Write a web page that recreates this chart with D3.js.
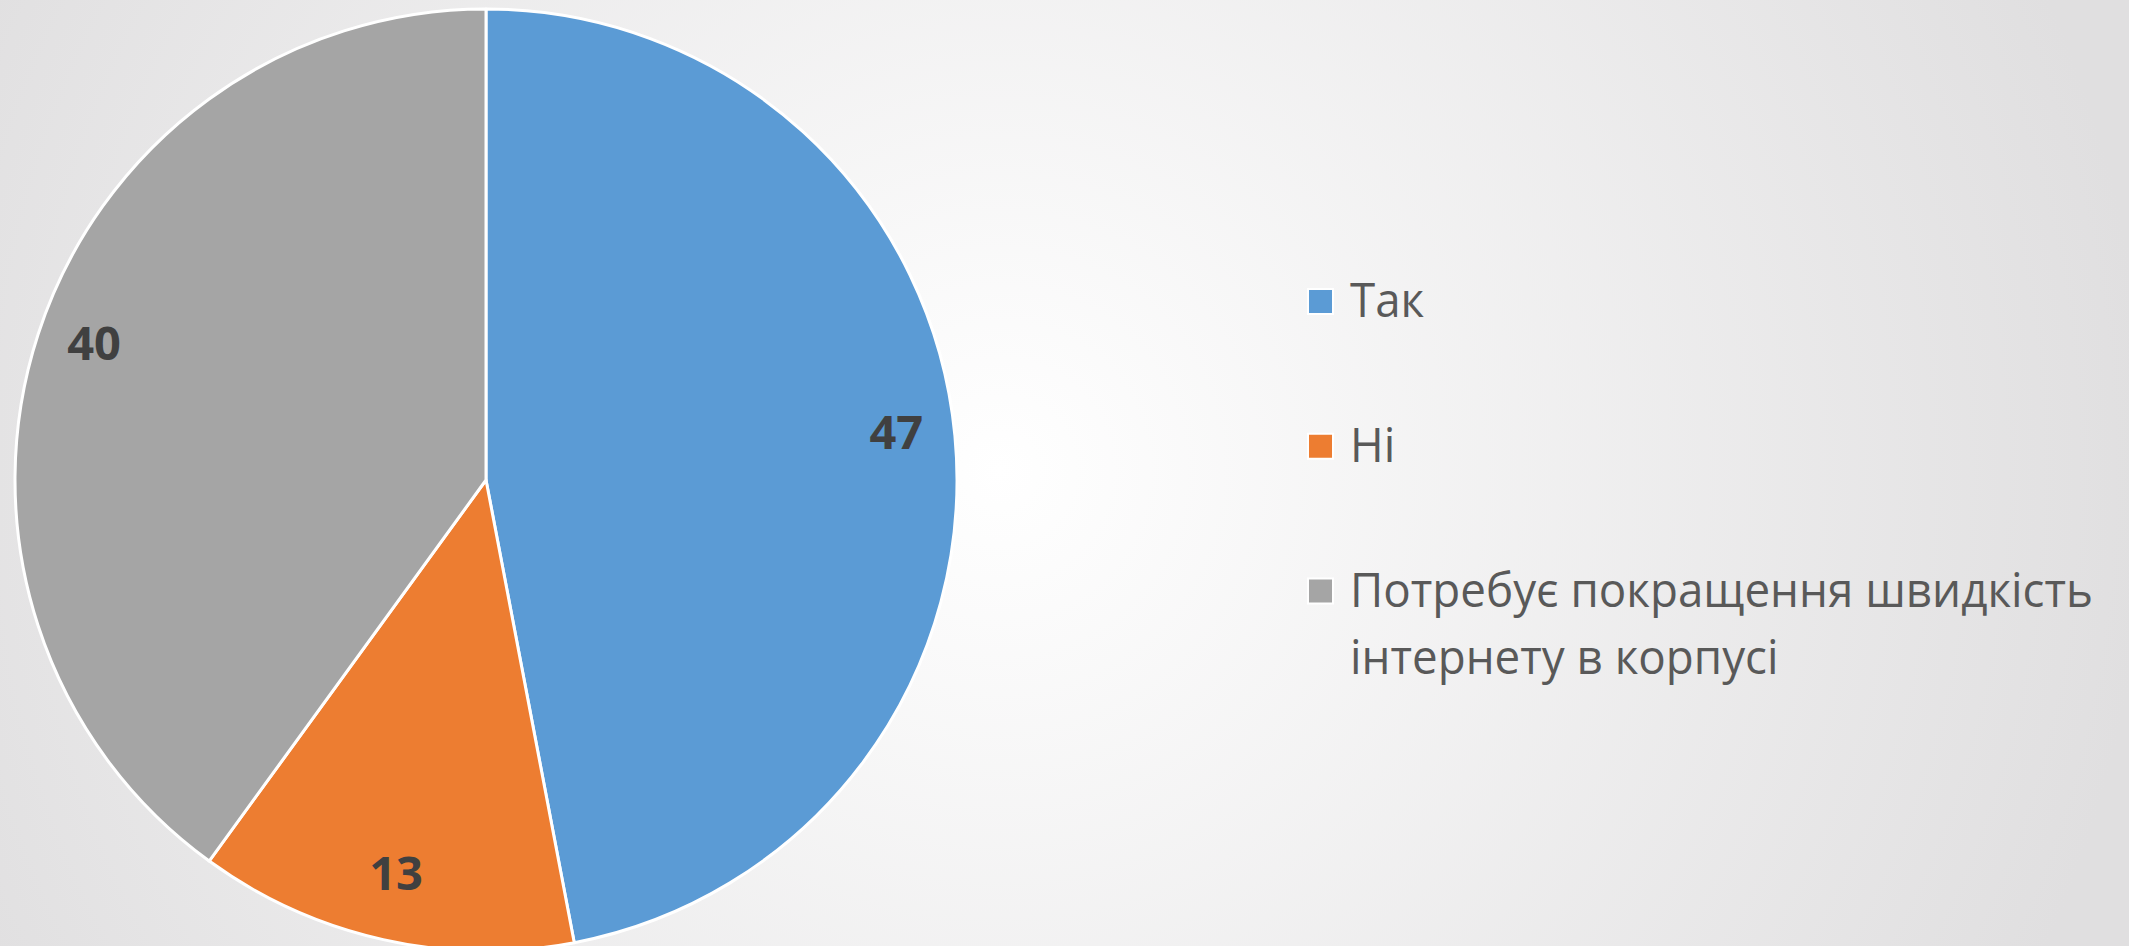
<!DOCTYPE html>
<html>
<head>
<meta charset="utf-8">
<script src="https://cdn.jsdelivr.net/npm/d3@7"></script>
<style>
  html, body { margin: 0; padding: 0; overflow: hidden; }
  svg { display: block; }
</style>
</head>
<body>
<svg id="chart" width="2129" height="946"></svg>
<script>
// ---- data ----
const categories = ["Так", "Ні", "Потребує покращення швидкість інтернету в корпусі"];
const legendLines = [["Так"], ["Ні"], ["Потребує покращення швидкість", "інтернету в корпусі"]];
const values = [47, 13, 40];
const colors = ["#5b9bd5", "#ed7d31", "#a5a5a5"];

const W = 2129, H = 946;
const svg = d3.select("#chart");

// background radial gradient
const defs = svg.append("defs");
const grad = defs.append("radialGradient")
  .attr("id", "bg").attr("gradientUnits", "userSpaceOnUse")
  .attr("cx", 1000).attr("cy", 470).attr("r", 1150);
grad.append("stop").attr("offset", "0%").attr("stop-color", "#ffffff");
grad.append("stop").attr("offset", "100%").attr("stop-color", "#e0dfe0");
svg.append("rect").attr("width", W).attr("height", H).attr("fill", "url(#bg)");

// pie
const cx = 486, cy = 480, R = 471;
const data = categories.map((c, i) => ({ cat: c, value: values[i], color: colors[i] }));
const pie = d3.pie().value(d => d.value).sort(null);
const arcs = pie(data);
const arc = d3.arc().innerRadius(0).outerRadius(R);
const labelArc = d3.arc().innerRadius(R * 0.875).outerRadius(R * 0.875);

const g = svg.append("g").attr("transform", `translate(${cx},${cy})`);
g.selectAll("path.slice").data(arcs).enter().append("path")
  .attr("class", "slice")
  .attr("d", arc)
  .attr("fill", d => d.data.color)
  .attr("stroke", "#ffffff")
  .attr("stroke-width", 3)
  .attr("stroke-linejoin", "round");

g.selectAll("text.lbl").data(arcs).enter().append("text")
  .attr("class", "lbl")
  .attr("transform", d => `translate(${labelArc.centroid(d)})`)
  .attr("text-anchor", "middle")
  .attr("dy", "0.16em")
  .attr("font-family", "'Open Sans', 'Noto Sans', sans-serif")
  .attr("font-weight", "bold")
  .attr("font-size", 47)
  .attr("fill", "#404040")
  .text(d => d.data.value);

// legend
const legendY = d3.scalePoint().domain(categories).range([301.5, 591]);
const lineH = 67;
const lg = svg.append("g");
const items = lg.selectAll("g.item").data(data).enter().append("g").attr("class", "item")
  .attr("transform", d => `translate(0,${legendY(d.cat)})`);

items.append("rect")
  .attr("x", 1308).attr("y", -12.5).attr("width", 25).attr("height", 25)
  .attr("fill", d => d.color)
  .attr("stroke", "#ffffff").attr("stroke-width", 2);

const texts = [];
items.each(function(d, i) {
  legendLines[i].forEach((line, j) => {
    const t = d3.select(this).append("text")
      .attr("x", 1350).attr("y", 15.5 + j * lineH)
      .attr("font-family", "'Open Sans', 'Noto Sans', sans-serif")
      .attr("font-size", 47)
      .attr("fill", "#595959")
      .text(line);
    texts.push(t);
  });
});
// compress text horizontally to match the narrow original face
const ref = texts[2].node().getComputedTextLength();
const k = 743 / ref;
texts.forEach(t => {
  const len = t.node().getComputedTextLength();
  t.attr("textLength", len * k).attr("lengthAdjust", "spacingAndGlyphs");
});
</script>
</body>
</html>
